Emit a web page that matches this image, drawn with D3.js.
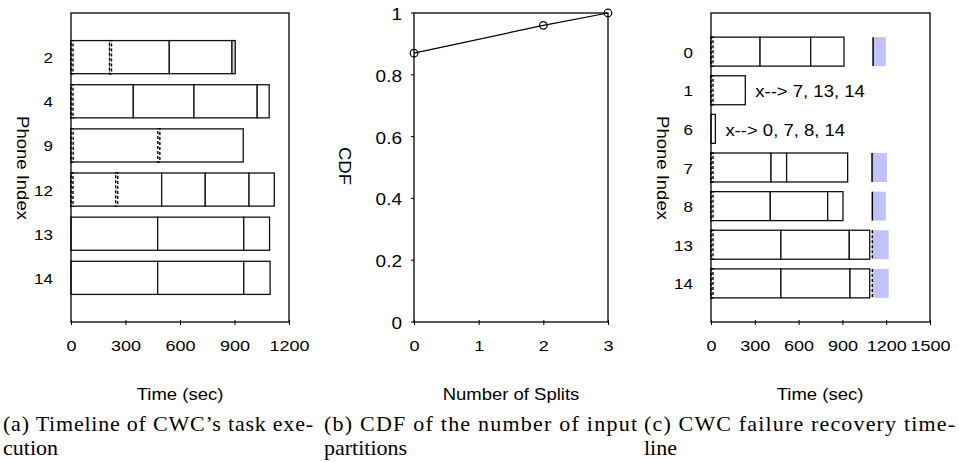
<!DOCTYPE html>
<html>
<head>
<meta charset="utf-8">
<script src="https://cdn.jsdelivr.net/npm/d3@7"></script>
<style>
  body { margin: 0; background: #fff; }
  svg { display: block; }
  text { font-family: "Liberation Sans", Arial, sans-serif; fill: #000; }
  .caption { font-family: "Liberation Serif", "Times New Roman", serif; font-size: 22px; }
</style>
</head>
<body>
<svg id="chart" width="959" height="462"></svg>
<script>
// (a) timeline of task execution, seconds
const taskPhones = ["2", "4", "9", "12", "13", "14"];
const taskSegments = [
    [[0, 215], [215, 541], [541, 886], [886, 904]],
    [[0, 343], [343, 677], [677, 1025], [1025, 1091]],
    [[0, 483], [483, 948]],
    [[0, 251], [251, 499], [499, 739], [739, 980], [980, 1119]],
    [[0, 477], [477, 951], [951, 1093]],
    [[0, 477], [477, 951], [951, 1096]]
];
const taskTransfers = [
    [[0, 8], [212, 222]],
    [[0, 10]],
    [[0, 12], [478, 488]],
    [[0, 8], [246, 256]],
    [],
    []
];

// (b) CDF of the number of input partitions
const splits = [0, 2, 3];
const splitCdf = [0.87, 0.96, 1.0];
const cdfTicks = [0, 0.2, 0.4, 0.6, 0.8, 1];

// (c) failure recovery timeline
const recPhones = ["0", "1", "6", "7", "8", "13", "14"];
const recSegments = [
    [[0, 336], [336, 683], [683, 911]],
    [[0, 235]],
    [[0, 30]],
    [[0, 411], [411, 518], [518, 936]],
    [[0, 406], [406, 799], [799, 904]],
    [[0, 479], [479, 947], [947, 1087]],
    [[0, 479], [479, 952], [952, 1087]]
];
const recTransfers = [[[0, 8]], [[0, 8]], [], [[0, 8]], [[0, 8]], [[0, 8]], [[0, 8]]];
const recRestart = [[1110, 1197], null, null, [1103, 1205], [1105, 1197], [1105, 1217], [1105, 1217]];
const recNotes = ["", "x--> 7, 13, 14", "x--> 0, 7, 8, 14", "", "", "", ""];

const svg = d3.select("#chart");
const squash = 0.85;

// text helper: the source figure has its lettering a bit flattened
function label(x, y, str, size, anchor, rotate) {
    const g = svg.append("g")
        .attr("transform", `translate(${x},${y})${rotate ? ` rotate(${rotate})` : ""} scale(1,${squash})`);
    g.append("text")
        .attr("text-anchor", anchor || "middle")
        .attr("font-size", size)
        .text(str);
    return g;
}

function frame(x0, x1, y0, y1) {
    svg.append("rect")
        .attr("x", x0).attr("y", y0)
        .attr("width", x1 - x0).attr("height", y1 - y0)
        .attr("fill", "none").attr("stroke", "#000").attr("stroke-width", 1.3);
}

function bottomAxis(x, yPos, ticks) {
    const g = svg.append("g")
        .attr("transform", `translate(0,${yPos})`)
        .call(d3.axisBottom(x).tickValues(ticks).tickSize(4).tickFormat(d3.format("")));
    g.select(".domain").remove();
    g.selectAll(".tick line").attr("y1", -2).attr("y2", 3).attr("stroke", "#000");
    g.selectAll(".tick text")
        .attr("y", 0).attr("dy", null)
        .attr("font-size", 18).attr("font-family", null)
        .attr("transform", `translate(0,29) scale(1,${squash})`);
}

function timeline(x, y, phones, segments, transfers) {
    const bh = y.step() * 0.75;
    phones.forEach((p, i) => {
        const cy = y(p);
        const row = svg.append("g");
        row.selectAll("rect.seg")
            .data(segments[i])
            .join("rect")
            .attr("class", "seg")
            .attr("x", d => x(d[0]))
            .attr("y", cy - bh / 2)
            .attr("width", d => x(d[1]) - x(d[0]))
            .attr("height", bh)
            .attr("fill", d => (d[1] - d[0] < 30 && d[0] > 0) ? "#ddd" : "#fff")
            .attr("stroke", "#111")
            .attr("stroke-width", 1.3);
        row.selectAll("rect.xfer")
            .data(transfers[i])
            .join("rect")
            .attr("class", "xfer")
            .attr("x", d => x(d[0]))
            .attr("y", cy - bh / 2)
            .attr("width", d => Math.max(2, x(d[1]) - x(d[0])))
            .attr("height", bh)
            .attr("fill", "#fff")
            .attr("stroke", "#000")
            .attr("stroke-width", 1.4)
            .attr("stroke-dasharray", "3,2");
    });
}

// ---- panel (a)
const xA = d3.scaleLinear([0, 1200], [71, 289]);
const yA = d3.scalePoint(taskPhones, [13, 322]).padding(1);
timeline(xA, yA, taskPhones, taskSegments, taskTransfers);
frame(71, 289, 13, 322);
bottomAxis(xA, 322, [0, 300, 600, 900, 1200]);
taskPhones.forEach(p => label(53, yA(p) + 6, p, 17, "end"));
label(17, 168, "Phone Index", 18.5, "middle", 90);
label(180, 400, "Time (sec)", 18.5);

// ---- panel (b)
const xB = d3.scaleLinear([0, 3], [414, 608]);
const yB = d3.scaleLinear([0, 1], [322, 13]);
frame(414, 608, 13, 322);
bottomAxis(xB, 322, [0, 1, 2, 3]);
svg.append("g").selectAll("line")
    .data(cdfTicks)
    .join("line")
    .attr("x1", 411).attr("x2", 414)
    .attr("y1", d => yB(d)).attr("y2", d => yB(d))
    .attr("stroke", "#000");
cdfTicks.forEach(t => label(402, yB(t) + 7, d3.format("")(t), 19, "end"));
label(339, 166, "CDF", 18.5, "middle", 90);
label(511, 400, "Number of Splits", 18.5);

const cdfPts = splits.map((s, i) => [s, splitCdf[i]]);
svg.append("path")
    .datum(cdfPts)
    .attr("d", d3.line().x(d => xB(d[0])).y(d => yB(d[1])))
    .attr("fill", "none").attr("stroke", "#000").attr("stroke-width", 1.2);
svg.append("g").selectAll("circle")
    .data(cdfPts)
    .join("circle")
    .attr("cx", d => xB(d[0])).attr("cy", d => yB(d[1]))
    .attr("r", 3.8)
    .attr("fill", "none").attr("stroke", "#000").attr("stroke-width", 1.2);

// ---- panel (c)
const xC = d3.scaleLinear([0, 1500], [711, 930]);
const yC = d3.scalePoint(recPhones, [13, 322]).padding(1);
timeline(xC, yC, recPhones, recSegments, recTransfers);
const bhC = yC.step() * 0.75;
recPhones.forEach((p, i) => {
    const r = recRestart[i];
    if (r) {
        svg.append("rect")
            .attr("x", xC(r[0])).attr("y", yC(p) - bhC / 2)
            .attr("width", xC(r[1]) - xC(r[0])).attr("height", bhC)
            .attr("fill", "#c2c2fb");
        svg.append("line")
            .attr("x1", xC(r[0])).attr("x2", xC(r[0]))
            .attr("y1", yC(p) - bhC / 2).attr("y2", yC(p) + bhC / 2)
            .attr("stroke", "#000").attr("stroke-width", 1.5)
            .attr("stroke-dasharray", i >= 5 ? "3,2" : null);
    }
    if (recNotes[i]) {
        const end = d3.max(recSegments[i], d => d[1]);
        label(xC(end) + 10, yC(p) + 7, recNotes[i], 18.5, "start");
    }
});
frame(711, 930, 13, 322);
bottomAxis(xC, 322, [0, 300, 600, 900, 1200, 1500]);
recPhones.forEach(p => label(693, yC(p) + 6, p, 17, "end"));
label(657, 168, "Phone Index", 18.5, "middle", 90);
label(820, 400, "Time (sec)", 18.5);

// ---- captions (justified first lines)
const captions = [
    { x: 3, w: 310, lines: ["(a) Timeline of CWC\u2019s task exe-", "cution"] },
    { x: 324, w: 313, lines: ["(b) CDF of the number of input", "partitions"] },
    { x: 644, w: 311, lines: ["(c) CWC failure recovery time-", "line"] }
];
captions.forEach(c => {
    c.lines.forEach((ln, j) => {
        const t = svg.append("text")
            .attr("class", "caption")
            .attr("x", c.x).attr("y", 431 + j * 24)
            .text(ln);
        if (j === 0) t.attr("textLength", c.w).attr("lengthAdjust", "spacing");
    });
});
</script>
</body>
</html>
